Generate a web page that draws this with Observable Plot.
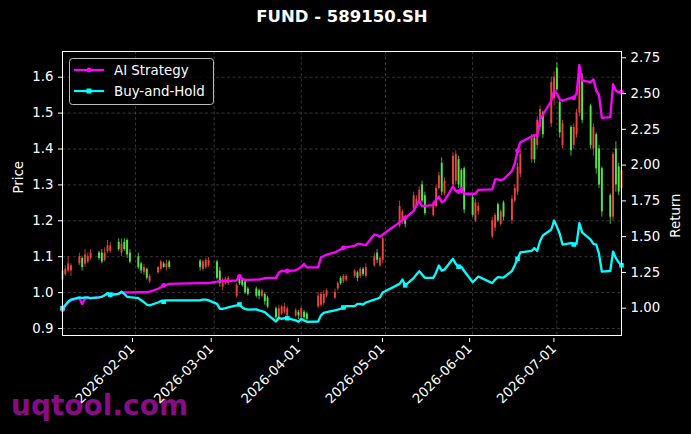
<!DOCTYPE html>
<html><head><meta charset="utf-8">
<script src="https://cdn.jsdelivr.net/npm/d3@7"></script>
<script src="https://cdn.jsdelivr.net/npm/@observablehq/plot@0.6"></script>
<style>
body{margin:0;background:#000;}
#wrap{position:relative;width:691px;height:434px;background:#000;overflow:hidden;font-family:"DejaVu Sans",sans-serif;}
#title{position:absolute;left:0;width:684px;top:7px;text-align:center;color:#fff;font-weight:bold;font-size:16.5px;line-height:20px;}
#wm{position:absolute;left:11px;top:389px;color:#870d87;font-weight:bold;font-size:28px;line-height:34px;}
#chart{position:absolute;left:0;top:0;}
#legend{position:absolute;left:0;top:0;pointer-events:none;}
</style></head>
<body><div id="wrap"><div id="wm">uqtool.com</div><div id="chart"></div><div id="title">FUND - 589150.SH</div>
<svg id="legend" width="691" height="434" font-family="DejaVu Sans" font-size="13.4">
<rect x="69.5" y="58.5" width="144" height="46" rx="3" fill="rgba(0,0,0,0.8)" stroke="#bbb" stroke-width="1"/>
<line x1="74" y1="70" x2="104" y2="70" stroke="#ff00ff" stroke-width="2.2"/>
<circle cx="89" cy="70" r="2.4" fill="#ff00ff"/>
<text x="114" y="75" fill="#fff">AI Strategy</text>
<line x1="74" y1="91" x2="104" y2="91" stroke="#00ffff" stroke-width="2.2"/>
<rect x="86.5" y="88.5" width="5" height="5" fill="#00ffff"/>
<text x="114" y="96" fill="#fff">Buy-and-Hold</text>
</svg>
</div>
<script>
const dates = ["2026-01-06","2026-01-07","2026-01-08","2026-01-09","2026-01-12","2026-01-13","2026-01-14","2026-01-15","2026-01-16","2026-01-19","2026-01-20","2026-01-21","2026-01-22","2026-01-23","2026-01-26","2026-01-27","2026-01-28","2026-01-29","2026-01-30",
"2026-02-02","2026-02-03","2026-02-04","2026-02-05","2026-02-06","2026-02-09","2026-02-10","2026-02-11","2026-02-12","2026-02-13","2026-02-24","2026-02-25","2026-02-26","2026-02-27",
"2026-03-02","2026-03-03","2026-03-04","2026-03-05","2026-03-06","2026-03-09","2026-03-10","2026-03-11","2026-03-12","2026-03-13","2026-03-16","2026-03-17","2026-03-18","2026-03-19","2026-03-20","2026-03-23","2026-03-24","2026-03-25","2026-03-26","2026-03-27","2026-03-30","2026-03-31",
"2026-04-01","2026-04-02","2026-04-03","2026-04-07","2026-04-08","2026-04-09","2026-04-10","2026-04-13","2026-04-14","2026-04-15","2026-04-16","2026-04-17","2026-04-20","2026-04-21","2026-04-22","2026-04-23","2026-04-24","2026-04-27","2026-04-28","2026-04-29","2026-04-30",
"2026-05-06","2026-05-07","2026-05-08","2026-05-11","2026-05-12","2026-05-13","2026-05-14","2026-05-15","2026-05-18","2026-05-19","2026-05-20","2026-05-21","2026-05-22","2026-05-25","2026-05-26","2026-05-27","2026-05-28","2026-05-29",
"2026-06-01","2026-06-02","2026-06-03","2026-06-08","2026-06-09","2026-06-10","2026-06-11","2026-06-12","2026-06-15","2026-06-16","2026-06-17","2026-06-18","2026-06-22","2026-06-23","2026-06-24","2026-06-25","2026-06-26","2026-06-29","2026-06-30",
"2026-07-01","2026-07-02","2026-07-03","2026-07-06","2026-07-07","2026-07-08","2026-07-09","2026-07-10","2026-07-13","2026-07-14","2026-07-15","2026-07-16","2026-07-17","2026-07-20","2026-07-21","2026-07-22","2026-07-23","2026-07-24"];

const open = [1.035,1.05,1.06,1.06,1.08,1.095,1.08,1.085,1.095,1.11,1.11,1.09,1.115,1.115,1.14,1.11,1.14,1.145,1.11,
1.10,1.08,1.055,1.065,1.03,1.055,1.065,1.08,1.07,1.085,1.088,1.065,1.07,1.075,
1.085,1.06,1.015,1.025,1.025,0.99,1.04,1.035,1.03,1.01,1.01,1.005,0.99,0.995,0.985,0.955,0.93,0.94,0.945,0.935,0.935,0.945,
0.93,0.945,0.94,0.96,0.965,0.97,0.99,0.985,1.01,1.04,1.03,1.035,1.045,1.055,1.045,1.065,1.045,1.075,1.11,1.075,1.09,
1.185,1.20,1.21,1.235,1.24,1.255,1.30,1.27,1.215,1.24,1.29,1.36,1.275,1.30,1.31,1.37,1.34,1.345,
1.265,1.20,1.225,1.155,1.18,1.245,1.19,1.25,1.20,1.255,1.28,1.33,1.37,1.43,1.41,1.46,1.50,1.47,1.54,
1.625,1.53,1.41,1.46,1.41,1.44,1.50,1.60,1.52,1.40,1.44,1.40,1.345,1.27,1.21,1.40,1.35,1.29];
const high = [1.07,1.075,1.10,1.08,1.11,1.10,1.12,1.11,1.12,1.115,1.12,1.125,1.145,1.14,1.15,1.15,1.15,1.15,1.12,
1.11,1.085,1.078,1.068,1.05,1.072,1.09,1.085,1.09,1.09,1.092,1.09,1.095,1.098,
1.09,1.07,1.04,1.042,1.045,1.025,1.045,1.04,1.035,1.015,1.015,1.01,1.01,1.0,0.99,0.96,0.965,0.965,0.97,0.96,0.955,0.95,
0.96,0.95,0.945,1.0,1.0,1.005,1.01,1.01,1.03,1.045,1.05,1.05,1.065,1.06,1.07,1.07,1.08,1.11,1.12,1.10,1.155,
1.255,1.23,1.215,1.28,1.27,1.295,1.31,1.28,1.255,1.30,1.335,1.375,1.32,1.39,1.395,1.38,1.345,1.35,
1.27,1.26,1.25,1.21,1.22,1.25,1.23,1.255,1.27,1.30,1.36,1.40,1.44,1.44,1.49,1.52,1.505,1.60,1.615,
1.64,1.545,1.48,1.465,1.47,1.51,1.635,1.61,1.525,1.47,1.445,1.41,1.35,1.275,1.39,1.42,1.36,1.36];
const low = [1.03,1.045,1.055,1.045,1.075,1.06,1.07,1.08,1.09,1.09,1.08,1.085,1.11,1.11,1.115,1.10,1.115,1.095,1.08,
1.065,1.052,1.048,1.035,1.025,1.052,1.06,1.068,1.06,1.065,1.06,1.06,1.065,1.07,
1.035,1.015,1.005,1.02,1.02,0.985,1.02,1.015,0.995,0.99,0.985,0.98,0.985,0.965,0.955,0.925,0.92,0.935,0.94,0.93,0.93,0.925,
0.925,0.925,0.92,0.955,0.96,0.965,0.985,0.98,1.005,1.02,1.025,1.03,1.04,1.03,1.04,1.045,1.04,1.07,1.08,1.07,1.08,
1.18,1.19,1.18,1.23,1.235,1.25,1.25,1.215,1.21,1.235,1.285,1.27,1.27,1.29,1.30,1.29,1.275,1.22,
1.21,1.195,1.215,1.15,1.17,1.195,1.185,1.20,1.19,1.25,1.27,1.32,1.36,1.36,1.40,1.45,1.43,1.46,1.52,
1.56,1.43,1.40,1.38,1.40,1.43,1.49,1.47,1.40,1.38,1.33,1.29,1.21,1.19,1.20,1.28,1.27,1.28];
const close = [1.06,1.065,1.08,1.075,1.10,1.07,1.105,1.10,1.11,1.095,1.085,1.11,1.13,1.13,1.12,1.135,1.12,1.105,1.085,
1.07,1.06,1.07,1.04,1.045,1.07,1.085,1.07,1.08,1.07,1.07,1.085,1.09,1.09,
1.04,1.025,1.035,1.038,1.04,1.02,1.025,1.02,1.0,0.995,0.99,0.99,1.005,0.975,0.96,0.93,0.955,0.96,0.96,0.955,0.95,0.935,
0.955,0.93,0.925,0.99,0.995,0.995,1.005,1.0,1.025,1.025,1.045,1.045,1.06,1.04,1.065,1.05,1.07,1.10,1.09,1.095,1.15,
1.24,1.225,1.19,1.27,1.26,1.285,1.255,1.22,1.25,1.29,1.325,1.28,1.31,1.38,1.385,1.30,1.285,1.23,
1.215,1.25,1.24,1.20,1.215,1.20,1.225,1.21,1.26,1.29,1.35,1.385,1.43,1.37,1.48,1.51,1.44,1.585,1.60,
1.565,1.445,1.47,1.395,1.46,1.50,1.62,1.48,1.41,1.46,1.345,1.30,1.225,1.21,1.385,1.30,1.28,1.34];

const aiStrategy = [0.99,1.02,1.04,1.055,1.07,1.03,1.065,1.07,1.07,1.075,1.08,1.09,1.10,1.09,1.10,1.108,1.11,1.11,1.11,
1.112,1.112,1.112,1.112,1.115,1.136,1.147,1.159,1.165,1.17,1.175,1.175,1.175,1.175,
1.185,1.19,1.19,1.19,1.19,1.195,1.222,1.205,1.198,1.198,1.20,1.20,1.205,1.21,1.212,1.212,1.25,1.26,1.26,1.26,1.265,1.275,
1.29,1.31,1.285,1.285,1.356,1.365,1.375,1.39,1.40,1.41,1.422,1.425,1.435,1.45,1.45,1.445,1.44,1.515,1.51,1.50,1.515,
1.60,1.615,1.63,1.68,1.72,1.75,1.713,1.715,1.72,1.76,1.78,1.74,1.75,1.85,1.82,1.815,1.84,1.80,
1.80,1.80,1.827,1.83,1.90,1.90,1.895,1.90,1.96,2.01,2.10,2.16,2.20,2.21,2.20,2.32,2.35,2.45,2.52,
2.50,2.46,2.45,2.47,2.47,2.50,2.70,2.59,2.58,2.60,2.52,2.49,2.33,2.335,2.565,2.52,2.51,2.51];
const buyHold = [1.00,1.02,1.045,1.06,1.075,1.07,1.075,1.075,1.07,1.075,1.08,1.09,1.105,1.095,1.10,1.115,1.10,1.08,1.077,
1.07,1.055,1.042,1.025,1.02,1.04,1.05,1.045,1.055,1.055,1.055,1.06,1.06,1.055,
1.03,0.996,0.996,1.0,1.005,1.02,1.026,1.005,0.995,0.99,0.992,0.985,0.98,0.972,0.955,0.907,0.933,0.925,0.93,0.93,0.915,0.905,
0.925,0.915,0.905,0.907,0.95,0.968,0.972,0.985,0.99,0.996,1.005,1.014,1.014,1.03,1.03,1.025,1.04,1.06,1.066,1.075,1.11,
1.17,1.20,1.16,1.21,1.235,1.259,1.235,1.212,1.212,1.25,1.298,1.263,1.27,1.345,1.31,1.29,1.29,1.26,
1.182,1.20,1.221,1.175,1.20,1.217,1.215,1.213,1.26,1.30,1.345,1.39,1.40,1.42,1.40,1.47,1.508,1.55,1.613,
1.57,1.52,1.445,1.455,1.445,1.45,1.594,1.53,1.48,1.45,1.445,1.38,1.256,1.26,1.396,1.35,1.32,1.30];

const priceTicks = [0.9,1.0,1.1,1.2,1.3,1.4,1.5,1.6];
const returnTicks = [1.00,1.25,1.50,1.75,2.00,2.25,2.50,2.75];
const monthTicks = ["2026-02-01","2026-03-01","2026-04-01","2026-05-01","2026-06-01","2026-07-01"];
const priceDomain = [0.8805, 1.6716];
const returnDomain = [0.8092, 2.794];

const k = (priceDomain[1]-priceDomain[0])/(returnDomain[1]-returnDomain[0]);
const toPrice = r => priceDomain[0] + (r - returnDomain[0]) * k;
const fromPrice = p => returnDomain[0] + (p - priceDomain[0]) / k;

const parse = d3.utcParse("%Y-%m-%d");
const data = dates.map((d,i) => ({date: parse(d), open: open[i], high: high[i], low: low[i], close: close[i], ai: aiStrategy[i], bh: buyHold[i], i}));
const up = data.filter(d => d.close >= d.open);
const down = data.filter(d => d.close < d.open);
const marked = data.filter(d => d.i % 13 === 0);
const mTicks = monthTicks.map(parse);

const RED = "#e8463f", GREEN = "#52e64a";
const grid = {stroke: "#8a8a8a", strokeOpacity: 0.55, strokeWidth: 0.7, strokeDasharray: "3,2.5"};

const chart = Plot.plot({
  width: 691, height: 434,
  marginLeft: 62, marginRight: 70, marginTop: 51, marginBottom: 99,
  style: {background: "transparent", color: "white", fontFamily: "DejaVu Sans", fontSize: "13.3px"},
  x: {type: "utc", domain: [data[0].date, data[data.length-1].date]},
  y: {domain: priceDomain},
  marks: [
    Plot.frame({fill: "black"}),
    Plot.gridY(priceTicks, grid),
    Plot.gridX(mTicks, grid),
    Plot.ruleX(up, {x: "date", y1: "low", y2: "high", stroke: RED, strokeWidth: 0.8}),
    Plot.ruleX(up, {x: "date", y1: "open", y2: "close", stroke: RED, strokeWidth: 1.9}),
    Plot.ruleX(down, {x: "date", y1: "low", y2: "high", stroke: GREEN, strokeWidth: 0.8}),
    Plot.ruleX(down, {x: "date", y1: "open", y2: "close", stroke: GREEN, strokeWidth: 1.9}),
    Plot.line(data, {x: "date", y: d => toPrice(d.ai), stroke: "#ff00ff", strokeWidth: 2.3}),
    Plot.dot(marked, {x: "date", y: d => toPrice(d.ai), r: 2.4, fill: "#ff00ff"}),
    Plot.line(data, {x: "date", y: d => toPrice(d.bh), stroke: "#00ffff", strokeWidth: 2.3}),
    Plot.dot(marked, {x: "date", y: d => toPrice(d.bh), symbol: "square", r: 2.6, fill: "#00ffff"}),
    Plot.frame({stroke: "white", strokeWidth: 1}),
    Plot.axisY(priceTicks, {anchor: "left", tickSize: 4, tickPadding: 5, tickFormat: d3.format(".1f"), label: null, fontSize: 13.3}),
    Plot.axisY(returnTicks.map(toPrice), {anchor: "right", tickSize: 4, tickPadding: 5, tickFormat: d => d3.format(".2f")(fromPrice(d)), label: null, fontSize: 13.3}),
    Plot.axisX(mTicks, {anchor: "bottom", tickSize: 4, tickPadding: 4, tickRotate: -45, tickFormat: d3.utcFormat("%Y-%m-%d"), label: null, fontSize: 13.3, textStroke: null, dx: -3, dy: 3}),
    Plot.text(["Price"], {text: d => d, frameAnchor: "left", dx: -44, rotate: -90, fill: "white", fontSize: 13.3}),
    Plot.text(["Return"], {text: d => d, frameAnchor: "right", dx: 54, rotate: -90, fill: "white", fontSize: 13.3})
  ]
});
document.getElementById("chart").appendChild(chart);
</script>
</body></html>
